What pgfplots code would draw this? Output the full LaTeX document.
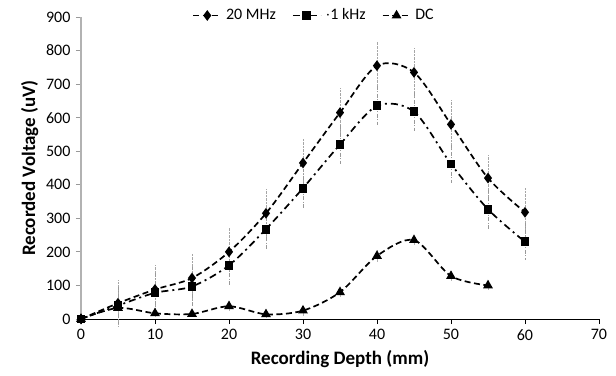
\documentclass[border=0pt]{standalone}
\usepackage{pgfplots}
\pgfplotsset{compat=1.18}
\usepackage{fontspec}
\setmainfont{Carlito}
\begin{document}
\fontsize{16}{19}\selectfont
\begin{tikzpicture}
\useasboundingbox (-81pt,-56pt) rectangle (535pt,319pt);
\begin{axis}[
  at={(0,0)}, anchor=origin,
  scale only axis, width=518pt, height=302pt,
  xmin=0, xmax=70, ymin=0, ymax=900,
  xtick={0,10,...,70}, ytick={0,100,...,900},
  axis lines=left,
  axis line style={-},
  x axis line style={black, line width=1pt},
  y axis line style={gray!60, line width=1.2pt},
  tick align=outside,
  xtick style={black, line width=0.8pt},
  ytick style={gray!80, line width=0.8pt},
  major tick length=5pt,
  tick label style={font=\fontsize{16}{19}\selectfont},
  label style={font=\fontsize{19}{22}\selectfont\bfseries},
  /pgf/number format/assume math mode=true,
  xlabel={Recording Depth (mm)},
  ylabel={Recorded Voltage (uV)},
  xlabel style={yshift=1pt},
  ylabel style={yshift=-3pt},
  legend style={draw=none, fill=none, at={(0.45,1.005)}, anchor=center,
    legend columns=-1, font=\fontsize{16}{19}\selectfont,
    /tikz/every odd column/.append style={column sep=2pt},
    /tikz/every even column/.append style={column sep=14pt}},
  legend image code/.code={%
    \draw[#1] (0pt,0pt) -- (14pt,0pt) -- (28pt,0pt);
    \draw[#1, only marks] plot coordinates {(14pt,0pt)};},
  clip=false,
]
\addplot[black, line width=1.7pt, dash pattern=on 6pt off 3.5pt, smooth, tension=0.5,
  mark=diamond*, mark size=4pt, mark options={solid},
  error bars/.cd, y dir=both, y explicit,
  error bar style={gray!70, densely dotted, line width=0.6pt}, error mark=none]
  coordinates {
  (0,0) +- (0,0)
  (5,47) +- (0,70)
  (10,88) +- (0,72)
  (15,122) +- (0,73)
  (20,200) +- (0,72)
  (25,315) +- (0,75)
  (30,465) +- (0,72)
  (35,615) +- (0,72)
  (40,755) +- (0,72)
  (45,735) +- (0,72)
  (50,580) +- (0,72)
  (55,420) +- (0,70)
  (60,318) +- (0,72)
};
\addlegendentry{20 MHz}
\addplot[black, line width=1.7pt, dash pattern=on 7pt off 4pt on 2pt off 4pt, smooth, tension=0.5,
  mark=square*, mark size=3.6pt, mark options={solid},
  error bars/.cd, y dir=both, y explicit,
  error bar style={gray!80, dash pattern=on 4pt off 1.5pt on 1pt off 1.5pt, line width=0.6pt}, error mark=none]
  coordinates {
  (0,0) +- (0,0)
  (5,40) +- (0,55)
  (10,78) +- (0,58)
  (15,97) +- (0,58)
  (20,160) +- (0,58)
  (25,268) +- (0,58)
  (30,390) +- (0,58)
  (35,520) +- (0,58)
  (40,635) +- (0,58)
  (45,618) +- (0,58)
  (50,462) +- (0,58)
  (55,327) +- (0,58)
  (60,230) +- (0,55)
};
\addlegendentry{$\cdot$1 kHz}
\addplot[black, line width=1.7pt, dash pattern=on 6pt off 3.5pt, smooth, tension=0.5,
  mark=triangle*, mark size=4pt, mark options={solid},
  error bars/.cd, y dir=both, y explicit,
  error bar style={gray!60, line width=0.6pt}, error mark=none]
  coordinates {
  (0,0) +- (0,0)
  (5,33) +- (0,15)
  (10,17) +- (0,10)
  (15,15) +- (0,10)
  (20,38) +- (0,15)
  (25,14) +- (0,10)
  (30,25) +- (0,15)
  (35,80) +- (0,15)
  (40,188) +- (0,18)
  (45,235) +- (0,15)
  (50,128) +- (0,15)
  (55,100) +- (0,15)
};
\addlegendentry{DC}
\end{axis}
\end{tikzpicture}
\end{document}
